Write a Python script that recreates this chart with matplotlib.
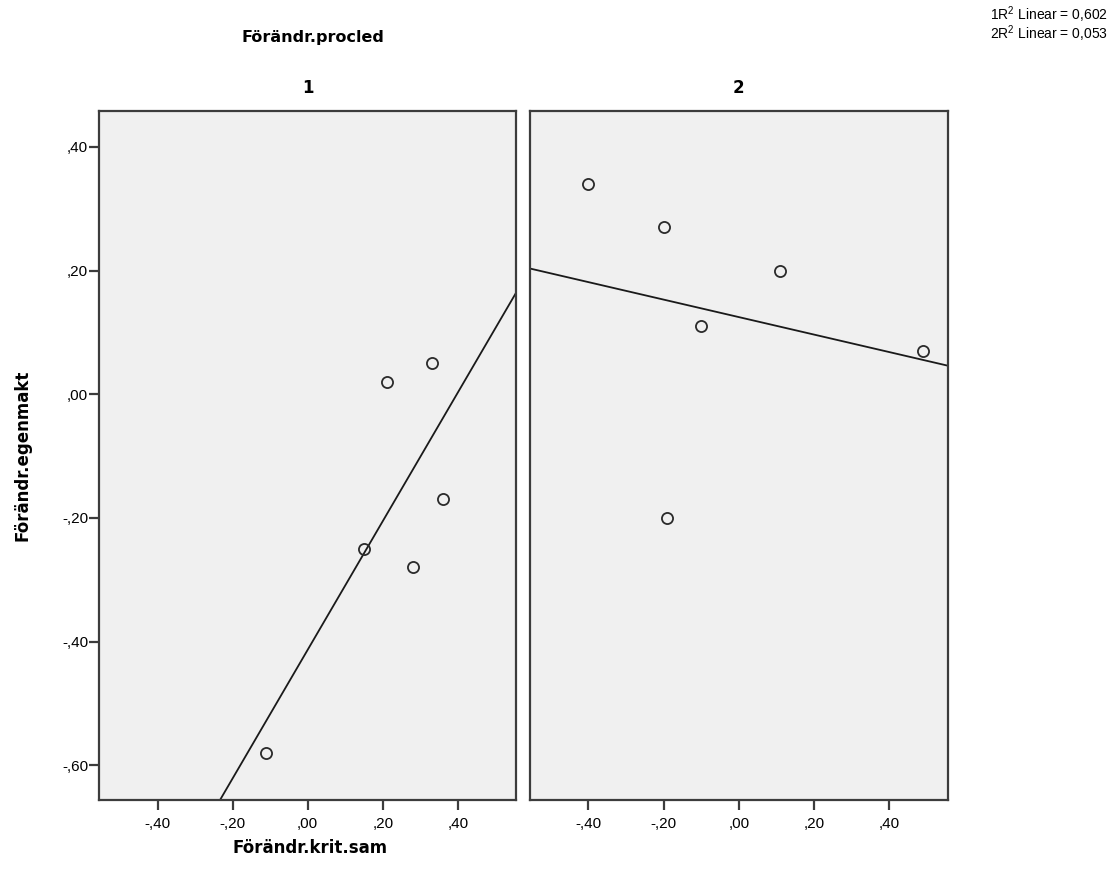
import numpy as np
import matplotlib
matplotlib.use("Agg")
import matplotlib.pyplot as plt

plt.rcParams['font.family'] = ['Liberation Sans', 'DejaVu Sans']
plt.rcParams['mathtext.fontset'] = 'custom'
plt.rcParams['mathtext.rm'] = 'Liberation Sans'

# group 1 / group 2 of Förändr.procled
x1 = [0.21, 0.33, 0.36, 0.15, 0.28, -0.11]
y1 = [0.02, 0.05, -0.17, -0.25, -0.28, -0.58]
x2 = [-0.40, -0.20, 0.11, -0.10, 0.49, -0.19]
y2 = [0.34, 0.27, 0.20, 0.11, 0.07, -0.20]

xticks = [-0.4, -0.2, 0.0, 0.2, 0.4]
xtick_labels = ["-,40", "-,20", ",00", ",20", ",40"]
yticks = [0.4, 0.2, 0.0, -0.2, -0.4, -0.6]
ytick_labels = [",40", ",20", ",00", "-,20", "-,40", "-,60"]
panel_names = ["1", "2"]
r2_lines = ["1R$^2$ Linear = 0,602", "2R$^2$ Linear = 0,053"]

xlim = (-0.555, 0.555)
ylim = (-0.656, 0.458)

fig = plt.figure(figsize=(11.15, 8.77), dpi=100)
axes = [fig.add_axes([0.0891, 0.0878, 0.3737, 0.7856]),
        fig.add_axes([0.4753, 0.0878, 0.3746, 0.7856])]

bold = dict(family=['DejaVu Sans'], fontweight='bold', fontsize=12)

for i, (ax, xs, ys) in enumerate(zip(axes, [x1, x2], [y1, y2])):
    ax.set_facecolor('#f0f0f0')
    ax.set_xlim(*xlim)
    ax.set_ylim(*ylim)
    for s in ax.spines.values():
        s.set_color('#3c3c3c')
        s.set_linewidth(1.6)
    k, m = np.polyfit(xs, ys, 1)
    lx = np.array(xlim)
    ax.plot(lx, k * lx + m, color='#1a1a1a', lw=1.3)
    ax.plot(xs, ys, 'o', ms=8, mfc='none', mec='#2a2a2a', mew=1.3)
    ax.set_xticks(xticks)
    ax.set_xticklabels(xtick_labels)
    ax.tick_params(axis='x', direction='out', length=7, width=1.6,
                   color='#3c3c3c', labelsize=11, pad=5)
    if i == 0:
        ax.set_yticks(yticks)
        ax.set_yticklabels(ytick_labels)
        ax.tick_params(axis='y', direction='out', length=7, width=1.6,
                       color='#3c3c3c', labelsize=11, pad=1)
    else:
        ax.set_yticks([])
    ax.set_title(panel_names[i], pad=13, **bold)

fig.text(0.281, 0.957, "Förändr.procled", ha='center', va='center',
         family=['DejaVu Sans'], fontweight='bold', fontsize=11.5)
fig.text(0.278, 0.033, "Förändr.krit.sam", ha='center', va='center', **bold)
fig.text(0.020, 0.481, "Förändr.egenmakt", ha='center', va='center',
         rotation=90, **bold)

fig.text(0.994, 0.983, r2_lines[0], ha='right', va='center', fontsize=10)
fig.text(0.994, 0.962, r2_lines[1], ha='right', va='center', fontsize=10)

fig.savefig("out.png", dpi=100)
